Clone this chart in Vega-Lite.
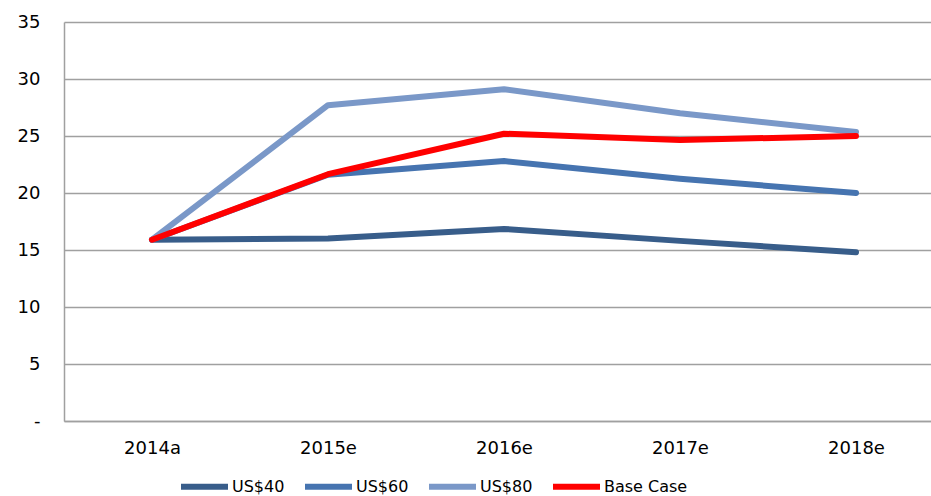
{
  "$schema": "https://vega.github.io/schema/vega-lite/v6.json",
  "autosize": "none",
  "width": 880,
  "height": 399,
  "padding": {"left": 64, "top": 22, "right": 0, "bottom": 75},
  "background": "white",
  "data": {"values": [
    {"year": "2014a", "series": "US$40", "value": 15.9},
    {"year": "2015e", "series": "US$40", "value": 16.0},
    {"year": "2016e", "series": "US$40", "value": 16.85},
    {"year": "2017e", "series": "US$40", "value": 15.8},
    {"year": "2018e", "series": "US$40", "value": 14.8},
    {"year": "2014a", "series": "US$60", "value": 15.9},
    {"year": "2015e", "series": "US$60", "value": 21.6},
    {"year": "2016e", "series": "US$60", "value": 22.8},
    {"year": "2017e", "series": "US$60", "value": 21.25},
    {"year": "2018e", "series": "US$60", "value": 20.0},
    {"year": "2014a", "series": "US$80", "value": 15.9},
    {"year": "2015e", "series": "US$80", "value": 27.7},
    {"year": "2016e", "series": "US$80", "value": 29.1},
    {"year": "2017e", "series": "US$80", "value": 27.0},
    {"year": "2018e", "series": "US$80", "value": 25.35},
    {"year": "2014a", "series": "Base Case", "value": 15.9},
    {"year": "2015e", "series": "Base Case", "value": 21.65},
    {"year": "2016e", "series": "Base Case", "value": 25.2},
    {"year": "2017e", "series": "Base Case", "value": 24.65},
    {"year": "2018e", "series": "Base Case", "value": 25.0}
  ]},
  "encoding": {
    "x": {"field": "year", "type": "ordinal", "scale": {"type": "point", "padding": 0.5},
      "axis": {"title": null, "labelAngle": 0, "ticks": false, "domain": true, "domainColor": "#a0a0a0", "domainWidth": 1.5, "labelPadding": 18, "labelFont": "DejaVu Sans", "labelFontSize": 18, "labelColor": "#000000"}},
    "y": {"field": "value", "type": "quantitative", "scale": {"domain": [0, 35]},
      "axis": {"title": null, "values": [0, 5, 10, 15, 20, 25, 30, 35], "labelExpr": "datum.value == 0 ? '-' : datum.label", "ticks": false, "domain": true, "domainColor": "#a0a0a0", "domainWidth": 1.5, "grid": true, "gridColor": "#a0a0a0", "gridWidth": 1.5, "labelPadding": 24, "labelFont": "DejaVu Sans", "labelFontSize": 18, "labelColor": "#000000"}},
    "color": {"field": "series", "type": "nominal",
      "scale": {"domain": ["US$40", "US$60", "US$80", "Base Case"], "range": ["#385d8a", "#4674b0", "#7a98c8", "#ff0000"]},
      "legend": {"title": null, "orient": "none", "direction": "horizontal", "legendX": 114, "legendY": 438, "symbolType": "stroke", "symbolSize": 2209, "symbolStrokeWidth": 6, "labelFont": "DejaVu Sans", "labelFontSize": 16, "labelColor": "#000000", "labelOffset": 1, "columnPadding": 8}}
  },
  "layer": [
    {"transform": [{"filter": "datum.series != 'Base Case'"}],
     "mark": {"type": "line", "strokeWidth": 6, "strokeCap": "round", "strokeJoin": "round"}},
    {"transform": [{"filter": "datum.series == 'Base Case'"}],
     "mark": {"type": "line", "strokeWidth": 6, "strokeCap": "round", "strokeJoin": "round"}}
  ],
  "config": {"view": {"stroke": null}}
}
